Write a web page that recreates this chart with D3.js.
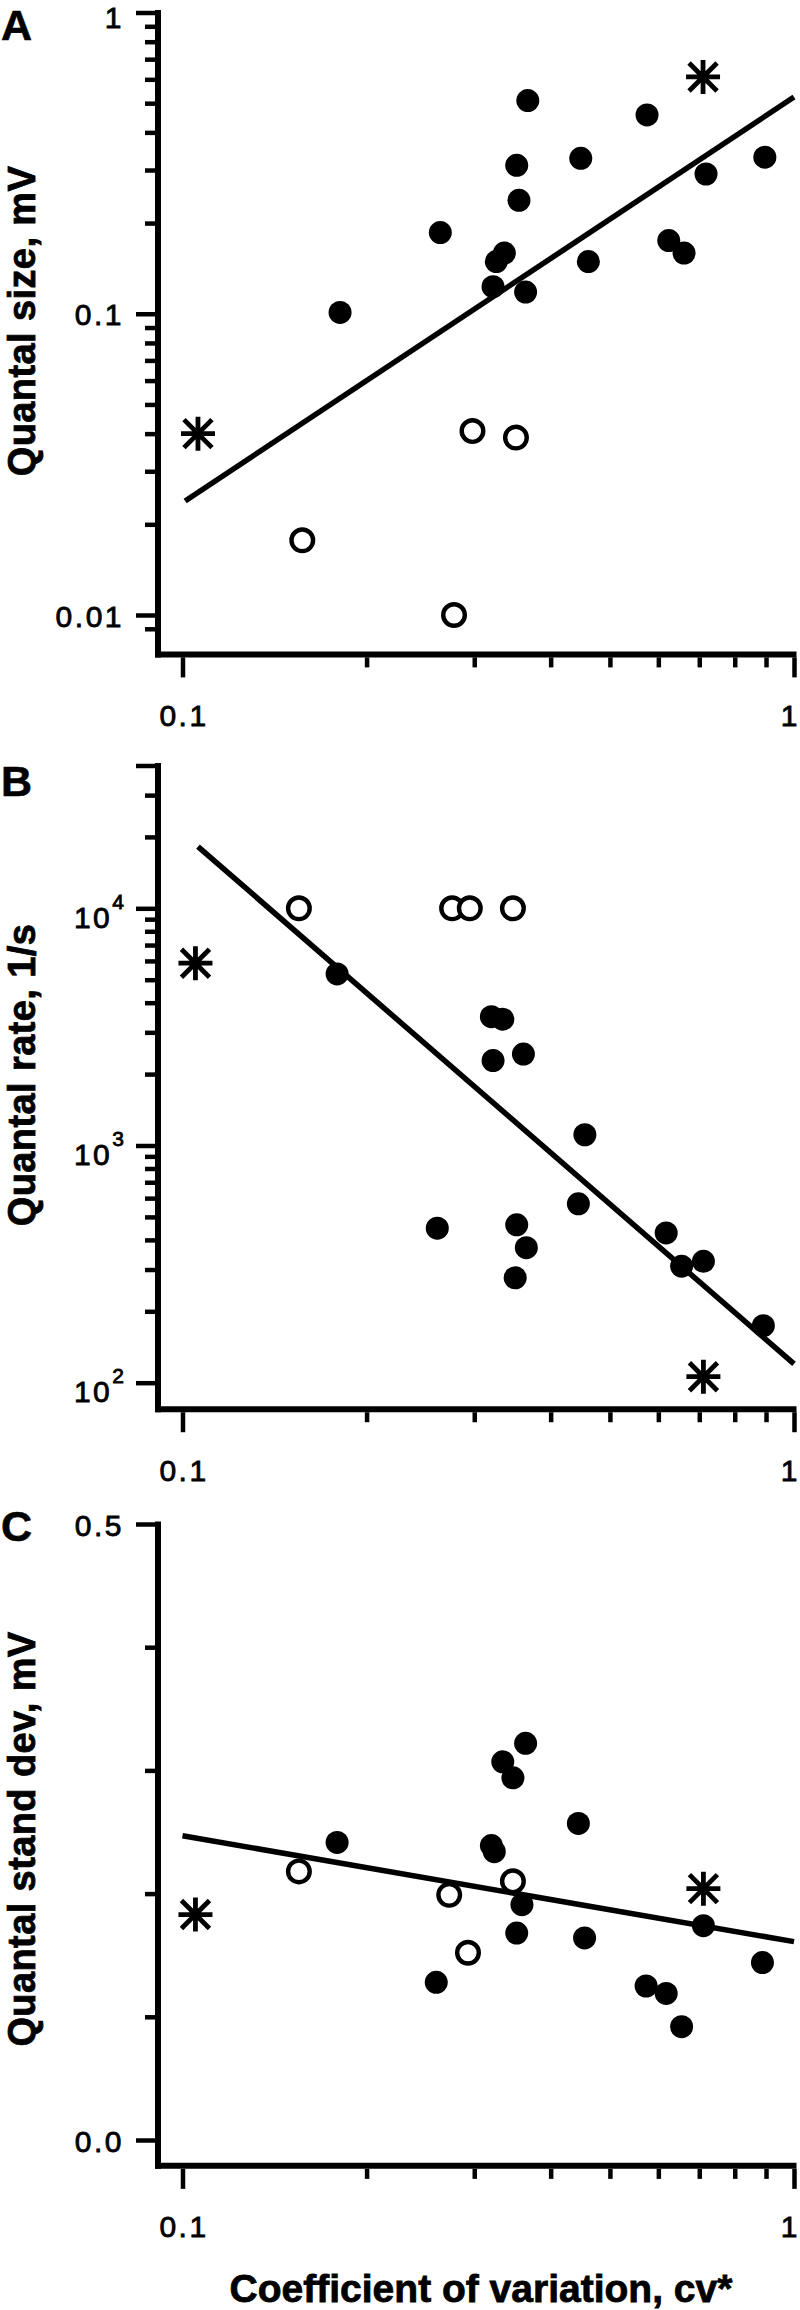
<!DOCTYPE html>
<html><head><meta charset="utf-8">
<script src="https://cdn.jsdelivr.net/npm/d3@7"></script>
<style>body{margin:0;background:#fff}svg{display:block}</style>
</head><body>
<svg id="c" width="800" height="2310"></svg>
<script>
// ---------- shared x axis (coefficient of variation) ----------
const cvTicks = [0.1, 1];
const cvTickLabels = ["0.1", "1"];
const cvMinorTicks = [0.2, 0.3, 0.4, 0.5, 0.6, 0.7, 0.8, 0.9];
const cvExtent = [0.0902, 1];

// ---------- Panel A: quantal size ----------
const sizeTicks = [0.01, 0.1, 1];
const sizeTickLabels = ["0.01", "0.1", "1"];
const sizeMinorTicks = [0.009, 0.02, 0.03, 0.04, 0.05, 0.06, 0.07, 0.08, 0.09, 0.2, 0.3, 0.4, 0.5, 0.6, 0.7, 0.8, 0.9];
const sizeExtent = [0.0074, 1];
const sizeFilledCv = [0.181, 0.264, 0.322, 0.326, 0.336, 0.352, 0.355, 0.367, 0.364, 0.448, 0.461, 0.575, 0.624, 0.661, 0.718, 0.896];
const sizeFilled   = [0.101, 0.186, 0.123, 0.149, 0.159, 0.311, 0.238, 0.510, 0.118, 0.328, 0.149, 0.457, 0.175, 0.159, 0.291, 0.331];
const sizeOpenCv = [0.157, 0.278, 0.298, 0.351];
const sizeOpen   = [0.0177, 0.0100, 0.0408, 0.0388];
const sizeStarCv = [0.106, 0.710];
const sizeStar   = [0.040, 0.611];
const sizeFitCv = [0.101, 1];
const sizeFit   = [0.0239, 0.524];

// ---------- Panel B: quantal rate ----------
const rateTicks = [100, 1000, 10000];
const rateTickExp = ["2", "3", "4"];
const rateLongTicks = [40000];
const rateMinorTicks = [200, 300, 400, 500, 600, 700, 800, 900, 2000, 3000, 4000, 5000, 6000, 7000, 8000, 9000, 20000, 30000];
const rateExtent = [77.3, 40000];
const rateFilledCv = [0.179, 0.320, 0.334, 0.322, 0.361, 0.455, 0.261, 0.352, 0.365, 0.350, 0.444, 0.618, 0.655, 0.711, 0.891];
const rateFilled   = [5290, 3490, 3410, 2280, 2430, 1110, 448, 463, 371, 277, 568, 428, 310, 325, 174];
const rateOpenCv = [0.155, 0.276, 0.295, 0.347];
const rateOpen   = [10000, 10000, 10000, 10000];
const rateStarCv = [0.105, 0.711];
const rateStar   = [5870, 106];
const rateFitCv = [0.106, 1];
const rateFit   = [18200, 120];

// ---------- Panel C: quantal standard deviation ----------
const sdTicks = [0.0, 0.5];
const sdTickLabels = ["0.0", "0.5"];
const sdMinorTicks = [0.1, 0.2, 0.3, 0.4];
const sdExtent = [-0.021, 0.5];
const sdFilledCv = [0.179, 0.320, 0.3235, 0.334, 0.347, 0.364, 0.444, 0.359, 0.352, 0.260, 0.4545, 0.573, 0.618, 0.655, 0.711, 0.888];
const sdFilled   = [0.2415, 0.239, 0.234, 0.307, 0.294, 0.322, 0.257, 0.191, 0.168, 0.128, 0.164, 0.125, 0.119, 0.092, 0.174, 0.144];
const sdOpenCv = [0.155, 0.273, 0.293, 0.347];
const sdOpen   = [0.218, 0.199, 0.152, 0.210];
const sdStarCv = [0.105, 0.711];
const sdStar   = [0.183, 0.204];
const sdFitCv = [0.1, 1];
const sdFit   = [0.247, 0.161];

// ---------- layout ----------
const FONT = "'Liberation Sans', Arial, Helvetica, sans-serif";
const svg = d3.select("#c");
const x = d3.scaleLog().domain([0.1, 1]).range([182.5, 794]);
const Y_AXIS_X = 158, AXIS_W = 6;

const zip = (a, b) => a.map((v, i) => ({cv: v, v: b[i]}));

const panels = [
  {letter: "A", letterY: 40, title: "Quantal size, mV", titleY: 321,
   y: d3.scaleLog().domain([0.01, 1]).range([615, 12.5]), ext: sizeExtent,
   ticks: sizeTicks, fmt: (d, i) => sizeTickLabels[i], long: [], minor: sizeMinorTicks,
   filled: zip(sizeFilledCv, sizeFilled), open: zip(sizeOpenCv, sizeOpen),
   star: zip(sizeStarCv, sizeStar), fit: zip(sizeFitCv, sizeFit)},
  {letter: "B", letterY: 796, title: "Quantal rate, 1/s", titleY: 1075, sup: true,
   y: d3.scaleLog().domain([100, 10000]).range([1382.7, 908.3]), ext: rateExtent,
   ticks: rateTicks, fmt: () => "", long: rateLongTicks, minor: rateMinorTicks,
   filled: zip(rateFilledCv, rateFilled), open: zip(rateOpenCv, rateOpen),
   star: zip(rateStarCv, rateStar), fit: zip(rateFitCv, rateFit)},
  {letter: "C", letterY: 1541, title: "Quantal stand dev, mV", titleY: 1839,
   y: d3.scaleLinear().domain([0, 0.5]).range([2140, 1524]), ext: sdExtent,
   ticks: sdTicks, fmt: (d, i) => sdTickLabels[i], long: [], minor: sdMinorTicks,
   filled: zip(sdFilledCv, sdFilled), open: zip(sdOpenCv, sdOpen),
   star: zip(sdStarCv, sdStar), fit: zip(sdFitCv, sdFit)}
];

function styleAxis(g) {
  g.select(".domain").remove();
  g.attr("font-size", null).attr("font-family", null);
  g.selectAll(".tick line").attr("stroke", "#000").attr("stroke-width", 4.5);
  g.selectAll(".tick text").attr("fill", "#000")
    .style("font-family", FONT).style("font-size", "30px")
    .attr("stroke", "#000").attr("stroke-width", 0.8)
    .style("letter-spacing", "2.5px");
}

const starPath = "M0,-17V17M-17,0H17M-14,-14L14,14M-14,14L14,-14";

panels.forEach((p) => {
  const g = svg.append("g");
  const y = p.y;
  const xAxisY = y(p.ext[0]);

  // axis lines (L-shaped frame)
  g.append("line").attr("x1", Y_AXIS_X).attr("x2", Y_AXIS_X)
    .attr("y1", y(p.ext[1]) - 2.5).attr("y2", xAxisY + AXIS_W / 2)
    .attr("stroke", "#000").attr("stroke-width", AXIS_W);
  g.append("line").attr("x1", x(cvExtent[0])).attr("x2", x(cvExtent[1]) + 2.5)
    .attr("y1", xAxisY).attr("y2", xAxisY)
    .attr("stroke", "#000").attr("stroke-width", AXIS_W);

  const yLeft = Y_AXIS_X - AXIS_W / 2;
  // y major ticks with labels
  const gy = g.append("g").attr("transform", `translate(${yLeft},0)`)
    .call(d3.axisLeft(y).tickValues(p.ticks).tickSize(19).tickPadding(12).tickFormat(p.fmt));
  styleAxis(gy);
  gy.selectAll(".tick text").attr("dy", "0.37em");
  // keep the top "1" label inside the page
  gy.selectAll(".tick text").filter(d => d === 1).attr("dy", 15);
  if (p.sup) {
    gy.selectAll(".tick text").each(function(d, i) {
      const t = d3.select(this);
      t.text(null).attr("dy", "0.64em");
      t.append("tspan").text("10");
      t.append("tspan").attr("dy", -19).style("font-size", "21px").style("letter-spacing", "0px").text(rateTickExp[i]);
    });
  }
  if (p.long.length) {
    const gl = g.append("g").attr("transform", `translate(${yLeft},0)`)
      .call(d3.axisLeft(y).tickValues(p.long).tickSize(19).tickFormat(""));
    styleAxis(gl);
  }
  const gym = g.append("g").attr("transform", `translate(${yLeft},0)`)
    .call(d3.axisLeft(y).tickValues(p.minor).tickSize(10).tickFormat(""));
  styleAxis(gym);

  // x ticks
  const xb = xAxisY + AXIS_W / 2;
  const gx = g.append("g").attr("transform", `translate(0,${xb})`)
    .call(d3.axisBottom(x).tickValues(cvTicks).tickSize(20).tickPadding(27).tickFormat((d, i) => cvTickLabels[i]));
  styleAxis(gx);
  gx.selectAll(".tick text").filter(d => d === 1)
    .attr("text-anchor", "end").attr("x", 3).style("letter-spacing", "0px");
  gx.selectAll(".tick text").filter(d => d !== 1).attr("x", 1);
  const gxm = g.append("g").attr("transform", `translate(0,${xb})`)
    .call(d3.axisBottom(x).tickValues(cvMinorTicks).tickSize(10).tickFormat(""));
  styleAxis(gxm);

  // regression line
  g.append("path").datum(p.fit)
    .attr("d", d3.line().x(d => x(d.cv)).y(d => y(d.v)))
    .attr("fill", "none").attr("stroke", "#000").attr("stroke-width", 5.5);

  // markers
  g.selectAll(".f").data(p.filled).join("circle")
    .attr("cx", d => x(d.cv)).attr("cy", d => y(d.v)).attr("r", 11.5).attr("fill", "#000");
  g.selectAll(".o").data(p.open).join("circle")
    .attr("cx", d => x(d.cv)).attr("cy", d => y(d.v)).attr("r", 10.8)
    .attr("fill", "#fff").attr("stroke", "#000").attr("stroke-width", 4.4);
  g.selectAll(".s").data(p.star).join("path")
    .attr("transform", d => `translate(${x(d.cv)},${y(d.v)})`)
    .attr("d", starPath).attr("stroke", "#000").attr("stroke-width", 4.8).attr("fill", "none");

  // panel letter
  g.append("text").attr("x", 1).attr("y", p.letterY).text(p.letter)
    .attr("font-family", FONT).attr("font-weight", "bold").attr("font-size", 43).attr("fill", "#000")
    .attr("stroke", "#000").attr("stroke-width", 0.6);

  // y title
  g.append("text").attr("transform", `translate(35,${p.titleY}) rotate(-90)`)
    .attr("text-anchor", "middle").text(p.title)
    .attr("font-family", FONT).attr("font-weight", "bold").attr("font-size", 38)
    .attr("fill", "#000").attr("stroke", "#000").attr("stroke-width", 0.8)
    .style("letter-spacing", "0.4px");
});

// x title
svg.append("text").attr("x", 481).attr("y", 2302).attr("text-anchor", "middle")
  .text("Coefficient of variation, cv*")
  .attr("font-family", FONT).attr("font-weight", "bold").attr("font-size", 39)
  .attr("fill", "#000").attr("stroke", "#000").attr("stroke-width", 0.8);
</script>
</body></html>
